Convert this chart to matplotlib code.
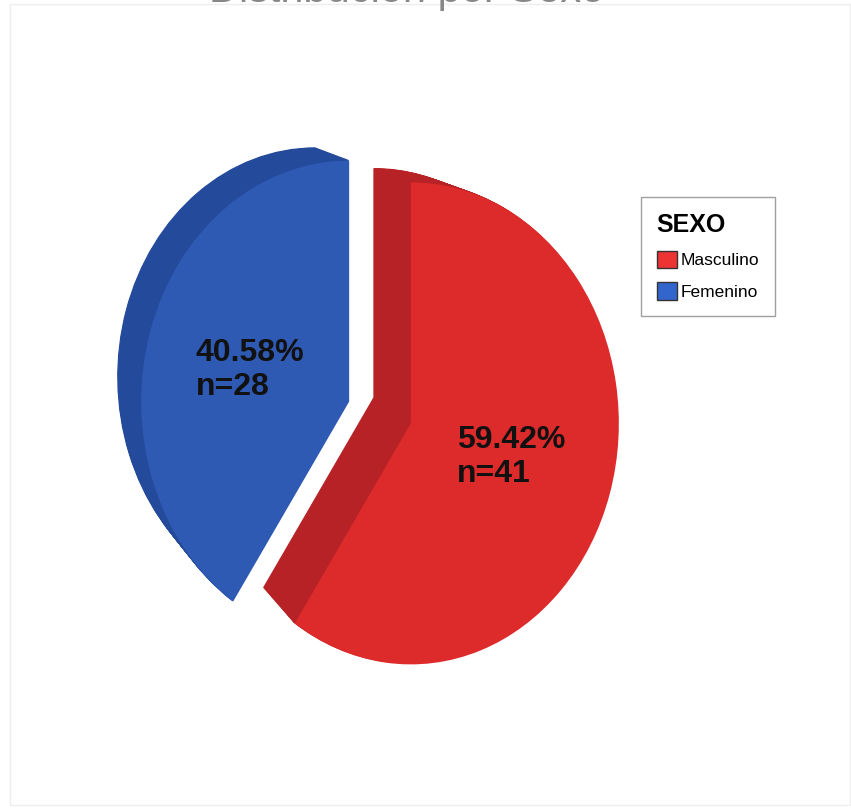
import matplotlib
matplotlib.use("Agg")
import matplotlib.pyplot as plt
from matplotlib.patches import Patch, Rectangle

# frecuencias por sexo
categorias = ["Masculino", "Femenino"]
frecuencias = [41, 28]
colores = ["#DD2B2B", "#2E5AB4"]
colores_lado = ["#B72226", "#244A9C"]
colores_leyenda = ["#EE3333", "#3366CC"]

total = sum(frecuencias)
porcentajes = [100 * f / total for f in frecuencias]

W, H = 851, 809
fig = plt.figure(figsize=(W / 100, H / 100), dpi=100)
ax = fig.add_axes([0, 0, 1, 1])

explode = 0.155
shrink = 0.95             # cara trasera un poco mas chica (perspectiva)
fondo = (-0.17, 0.105)    # desplazamiento de la cara trasera
capas = 30

# grosor del pastel: copias oscuras desde atras hacia adelante
for k in range(capas, 0, -1):
    t = k / capas
    esc = 1 - (1 - shrink) * t
    ws, _ = ax.pie(frecuencias, colors=colores_lado, startangle=90,
                   counterclock=False, explode=[explode * esc] * 2,
                   radius=esc, center=(fondo[0] * t, fondo[1] * t),
                   wedgeprops=dict(linewidth=0.8))
    for w in ws:
        w.set_edgecolor(w.get_facecolor())

# cara frontal
wedges, _ = ax.pie(frecuencias, colors=colores, startangle=90,
                   counterclock=False, explode=[explode] * 2,
                   wedgeprops=dict(linewidth=0))

rx, ry = 208, 241
cx, cy = 380, 412.5
ax.set_aspect("auto")
ax.set_xlim(-cx / rx, (W - cx) / rx)
ax.set_ylim(-(H - cy) / ry, cy / ry)
ax.axis("off")

# etiquetas de porcentaje y n
pos_etiquetas = [(457, 457), (196, 370)]
for (x, y), p, n in zip(pos_etiquetas, porcentajes, frecuencias):
    fig.text(x / W, 1 - y / H, f"{p:.2f}%\nn={n}", ha="left", va="center",
             fontsize=23, fontweight="bold", family="Liberation Sans",
             linespacing=1.15, color="#111111")

handles = [Patch(facecolor=c, edgecolor="#333333", linewidth=1)
           for c in colores_leyenda]
leg = fig.legend(handles, categorias, title="SEXO", loc="upper left",
                 bbox_to_anchor=(641 / W, 1 - 197 / H), frameon=True,
                 fancybox=False, edgecolor="#888888",
                 prop={"family": "Liberation Sans", "size": 12.5},
                 title_fontproperties={"family": "Liberation Sans", "weight": "bold", "size": 18},
                 alignment="left", handlelength=1.2, handleheight=1.2,
                 handletextpad=0.2, labelspacing=0.8, borderpad=0.9,
                 borderaxespad=0)
leg.get_frame().set_linewidth(1.0)

fig.text(0.478, 1 - 2 / H, "Distribución por Sexo", ha="center", va="baseline",
         fontsize=30, color="#888888", family="Liberation Sans")

fig.add_artist(Rectangle((10 / W, 4 / H), 840 / W, 801 / H, transform=fig.transFigure,
                         fill=False, edgecolor="#eeeeee", linewidth=1))

fig.savefig("out.png", dpi=100)
